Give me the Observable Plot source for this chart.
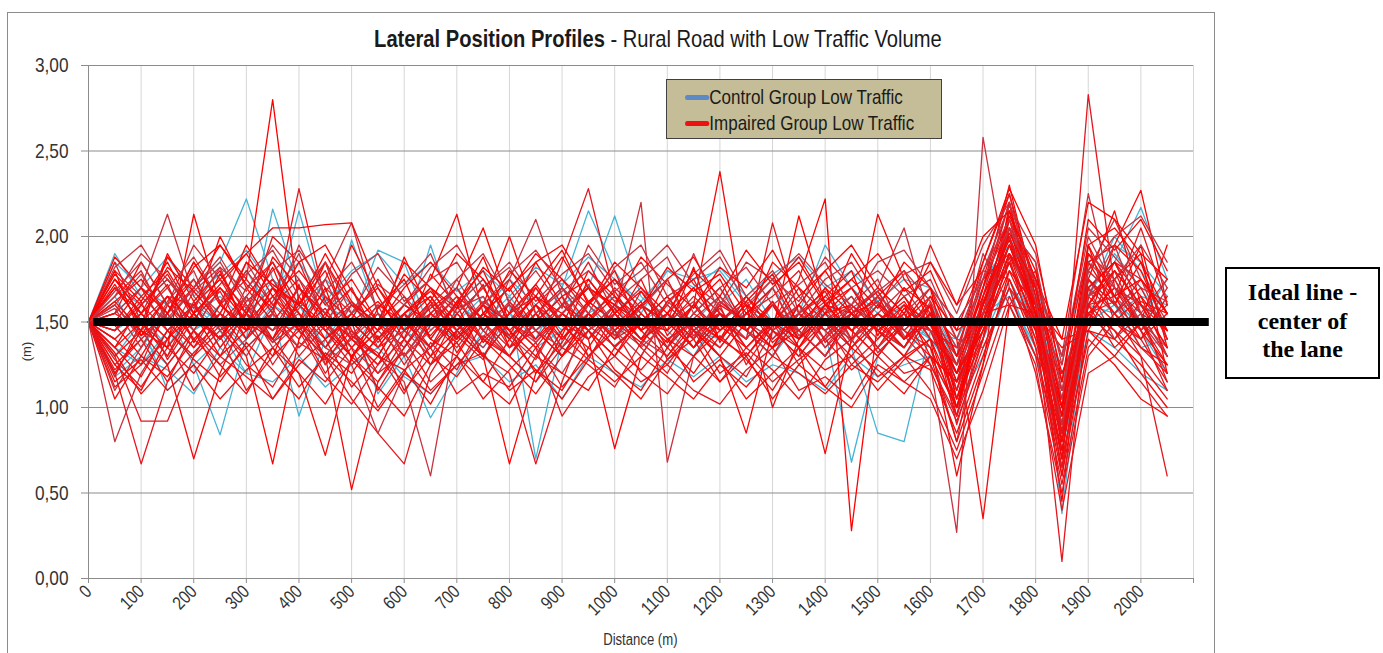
<!DOCTYPE html>
<html>
<head>
<meta charset="utf-8">
<script src="https://cdn.jsdelivr.net/npm/d3@7"></script>
<script src="https://cdn.jsdelivr.net/npm/@observablehq/plot@0.6"></script>
<style>
  body { margin: 0; background: #fff; }
  #wrap { position: relative; width: 1383px; height: 653px; overflow: hidden;
    font-family: "Liberation Sans", Arial, sans-serif; color: #1a1a1a; }
  #frame { position: absolute; left: 7px; top: 12px; width: 1208px; height: 700px; border: 1px solid #8c8c8c; box-sizing: border-box; }
  #chart { position: absolute; left: 0; top: 0; }
  .narrow { display: inline-block; transform: scaleX(0.84); white-space: nowrap; }
  #title { position: absolute; left: 0; width: 1315px; top: 26px; text-align: center; font-size: 24px; line-height: 26px; white-space: nowrap; color: #1a1a1a; }
  #legend { position: absolute; left: 666px; top: 79px; width: 276px; height: 60px; box-sizing: border-box;
    background: #c4bd97; border: 1px solid #404040; font-size: 21px; color: #1a1a1a; }
  .li { position: absolute; left: 18px; height: 26px; line-height: 26px; white-space: nowrap; transform: scaleX(0.81); transform-origin: left center; }
  .sw { display: inline-block; width: 30px; height: 5px; border-radius: 3px; vertical-align: middle; position: relative; top: -1px; }
  #ylab { position: absolute; left: 13px; top: 344px; width: 26px; text-align: center; font-size: 13px; transform: rotate(-90deg); color: #333; }
  #xlab { position: absolute; left: 540px; width: 200px; top: 631px; text-align: center; font-size: 16px; color: #333; }
  #xlab .narrow { transform: scaleX(0.82); }
  #note { position: absolute; left: 1225px; top: 267px; width: 155px; height: 112px; box-sizing: border-box;
    border: 2px solid #000; font-family: "Liberation Serif", "Times New Roman", serif; font-weight: bold;
    font-size: 24px; line-height: 28.5px; text-align: center; padding-top: 9px; color: #000; white-space: nowrap; }
</style>
</head>
<body>
<div id="wrap">
  <div id="frame"></div>
  <div id="chart"></div>
  <div id="title"><span class="narrow"><b>Lateral Position Profiles</b> - Rural Road with Low Traffic Volume</span></div>
  <div id="legend">
    <div class="li" style="top:4px"><span class="sw" style="background:#5b8ac4"></span>Control Group Low Traffic</div>
    <div class="li" style="top:30px"><span class="sw" style="background:#ee1111"></span>Impaired Group Low Traffic</div>
  </div>
  <div id="ylab">(m)</div>
  <div id="xlab"><span class="narrow">Distance (m)</span></div>
  <div id="note">Ideal line -<br>center of<br>the lane</div>
</div>
<script>
// ---- categories (distance along the road, m) ----
const distances = [0,50,100,150,200,250,300,350,400,450,500,550,600,650,700,750,800,850,900,950,1000,
  1050,1100,1150,1200,1250,1300,1350,1400,1450,1500,1550,1600,1650,1700,1750,1800,1850,1900,1950,2000,2050];

// ---- tick labels ----
const xTicks = [0,100,200,300,400,500,600,700,800,900,1000,1100,1200,1300,1400,1500,1600,1700,1800,1900,2000,2100];
const xTickLabels = ["0","100","200","300","400","500","600","700","800","900","1000","1100","1200","1300","1400","1500","1600","1700","1800","1900","2000",""];
const yTicks = [0, 0.5, 1, 1.5, 2, 2.5, 3];
const yTickLabels = ["0,00","0,50","1,00","1,50","2,00","2,50","3,00"];

// ---- ideal line (centre of the lane) ----
const idealLineY = 1.5;
const idealLineSpan = [10, 2130];

// ---- Control group low traffic (lateral position, m) ----
const control1 = [1.5,1.90,1.65,1.50,1.70,1.85,2.22,1.75,1.55,1.40,1.60,1.50,1.35,1.55,1.45,1.60,1.40,1.55,1.70,1.45,1.60,1.40,1.55,1.45,1.60,1.75,1.50,1.40,1.55,1.65,1.45,1.30,1.50,1.15,1.55,2.05,1.60,1.05,1.70,1.85,2.17,1.75];
const control2 = [1.5,1.20,1.35,1.55,1.25,0.84,1.40,2.16,1.70,1.50,1.35,1.55,1.40,1.60,1.45,1.30,1.55,1.40,1.70,2.15,1.80,1.55,1.40,1.50,1.65,1.45,1.35,1.55,1.45,0.68,1.30,1.50,1.40,1.20,1.60,2.10,1.75,0.38,1.65,1.90,1.70,1.45];
const control3 = [1.5,1.45,1.55,1.35,1.60,1.45,1.20,1.55,0.95,1.40,1.98,1.55,1.45,1.95,1.50,1.35,1.55,1.45,1.60,1.70,2.12,1.65,1.50,1.35,1.55,1.45,1.60,1.40,1.50,1.35,0.85,0.80,1.45,1.05,1.55,1.85,1.45,0.95,1.75,1.60,1.50,1.75];
const control4 = [1.5,1.65,1.40,1.25,1.45,1.60,1.80,1.55,2.15,1.60,1.50,1.92,1.85,1.45,1.60,1.75,1.50,1.35,1.45,1.60,1.40,1.55,1.80,1.75,1.80,1.60,1.45,1.55,1.95,1.70,1.55,1.40,1.60,1.30,1.60,1.95,1.55,0.85,1.80,1.65,1.45,1.20];
const control5 = [1.5,1.30,1.50,1.10,1.25,1.40,1.55,1.45,1.60,1.35,1.50,1.08,1.30,0.94,1.20,1.45,1.60,0.70,1.40,1.55,1.35,1.50,1.45,1.30,1.55,1.40,1.60,1.45,1.30,1.55,1.45,1.35,1.55,1.25,1.40,1.75,1.45,0.90,1.55,1.40,1.60,1.50];
const control6 = [1.5,1.55,1.70,1.60,1.45,1.55,1.40,1.60,1.50,1.75,1.60,1.45,1.55,1.40,1.60,1.50,1.65,1.45,1.55,1.40,1.60,1.50,1.35,1.55,1.70,1.50,1.40,1.60,1.45,1.55,1.70,1.55,1.40,1.20,1.50,1.90,1.60,1.15,1.65,2.00,1.80,1.55];
const control7 = [1.5,1.35,1.25,1.45,1.60,1.50,1.35,1.50,1.45,1.30,1.40,1.55,1.45,1.35,1.50,1.65,1.40,1.55,1.35,1.50,1.45,1.60,1.50,1.40,1.55,1.45,1.30,1.50,1.60,1.40,1.55,1.45,1.60,1.35,1.55,1.65,1.35,1.10,1.50,1.60,1.35,1.40];
const control8 = [1.5,1.70,1.60,1.75,1.55,1.65,1.50,1.75,1.60,1.45,1.55,1.40,1.60,1.50,1.40,1.55,1.75,1.60,1.45,1.55,1.65,1.50,1.60,1.45,1.40,1.55,1.70,1.50,1.55,1.35,1.50,1.60,1.45,1.40,1.70,2.00,1.65,1.20,1.60,1.55,1.65,1.60];
const control9 = [1.5,1.85,1.70,1.88,1.65,1.78,1.92,1.70,1.85,1.62,1.80,1.90,1.72,1.85,1.68,1.80,1.65,1.82,1.72,1.88,1.75,1.62,1.80,1.70,1.82,1.65,1.78,1.88,1.70,1.80,1.62,1.75,1.70,1.50,1.75,1.95,1.70,1.30,1.85,1.95,1.85,1.65];
const control10 = [1.5,1.18,1.30,1.22,1.08,1.35,1.20,1.15,1.30,1.12,1.25,1.35,1.18,1.08,1.25,1.30,1.15,1.25,1.05,1.30,1.20,1.12,1.28,1.18,1.30,1.15,1.25,1.20,1.10,1.30,1.18,1.25,1.30,1.00,1.30,1.70,1.30,0.75,1.45,1.35,1.20,1.10];

// ---- Impaired group low traffic (lateral position, m) ----
const impaired1 = [1.5,1.62,1.45,1.88,1.70,1.95,1.75,2.80,1.60,1.85,1.42,1.30,1.55,1.68,1.50,1.72,1.35,1.60,1.48,1.80,1.65,1.52,1.38,1.60,1.75,1.45,1.62,1.40,1.70,1.55,1.35,1.58,1.45,1.10,1.65,2.05,1.55,0.85,1.75,1.60,1.85,1.40];
const impaired2 = [1.5,1.20,0.67,1.15,1.45,1.30,1.58,1.40,1.72,1.25,1.50,1.10,1.35,1.55,1.42,1.28,1.62,1.45,1.30,1.55,1.40,1.68,1.50,1.35,1.60,1.25,1.48,1.70,1.38,1.52,1.65,1.40,1.55,1.20,1.48,1.90,1.62,0.95,2.83,1.70,1.55,1.30];
const impaired3 = [1.5,1.75,1.55,1.40,1.68,1.82,1.45,1.62,1.90,1.50,1.35,1.20,1.45,1.30,1.58,1.65,1.42,1.28,1.55,1.70,1.48,1.36,1.62,1.50,1.40,1.58,1.75,1.45,1.30,1.55,1.68,1.42,1.25,0.27,2.58,1.70,1.45,1.10,1.80,1.65,1.50,1.20];
const impaired4 = [1.5,1.35,1.60,1.78,1.52,1.40,1.65,1.85,1.55,1.30,0.52,1.15,1.40,1.25,1.55,1.70,1.45,1.20,1.38,1.62,1.50,1.75,1.42,1.60,2.38,1.45,1.30,1.55,1.68,1.40,1.52,1.35,1.60,1.05,1.40,2.10,1.75,0.75,1.60,1.85,1.55,1.45];
const impaired5 = [1.5,1.48,1.30,1.55,1.85,1.62,1.40,1.70,1.45,1.58,1.35,1.50,1.25,1.48,1.65,1.38,1.55,1.72,1.50,1.30,1.45,1.60,1.35,1.52,1.40,1.65,1.50,1.75,2.22,0.28,1.50,1.62,1.40,0.95,1.55,2.00,1.60,0.70,1.90,1.75,1.45,1.25];
const impaired6 = [1.5,1.65,1.80,1.50,1.35,1.60,1.75,1.55,2.28,1.62,1.40,1.25,1.50,1.35,1.62,1.45,1.30,1.55,1.70,1.48,1.36,1.50,1.65,1.42,1.55,1.30,1.48,1.60,1.40,1.55,1.68,1.45,1.30,1.15,1.70,2.20,1.50,0.10,1.65,1.80,1.60,1.35];
const impaired7 = [1.5,1.55,1.70,2.13,1.65,1.48,1.60,1.35,1.50,1.25,1.40,1.30,1.15,0.60,1.45,1.62,1.50,1.38,1.55,1.70,1.58,1.40,1.30,1.52,1.65,1.45,1.35,1.50,1.62,1.40,1.55,1.70,1.48,1.20,1.60,1.95,1.52,1.00,1.70,1.55,1.75,1.50];
const impaired8 = [1.5,1.30,1.45,1.25,0.70,1.20,1.55,1.40,1.62,1.48,1.30,1.45,1.60,1.75,2.13,1.55,1.40,1.60,1.35,1.52,1.68,1.45,1.30,1.48,1.55,1.40,1.62,1.35,1.50,1.65,1.45,1.30,1.55,1.40,0.35,1.60,1.80,1.20,1.55,1.40,1.62,1.55];
const impaired9 = [1.5,1.60,1.42,1.55,1.75,1.50,1.30,0.67,1.40,1.65,1.50,1.35,1.55,1.42,1.60,1.30,0.67,1.20,1.45,1.62,1.50,1.38,1.55,1.70,1.48,1.35,1.52,1.45,1.30,1.55,1.62,1.40,1.50,1.00,1.55,2.15,1.65,0.90,1.85,1.95,2.27,1.60];
const impaired10 = [1.5,1.40,1.25,1.60,1.45,1.70,1.55,1.38,1.50,1.30,1.05,0.85,0.67,1.20,1.45,1.60,1.75,1.50,1.85,2.28,1.65,1.45,1.55,1.35,1.50,1.62,1.40,1.55,1.45,1.30,1.50,1.65,1.40,1.25,1.75,1.90,1.55,1.05,1.60,1.45,1.30,0.60];
const impaired11 = [1.5,1.80,1.65,1.50,1.70,1.55,1.85,1.60,1.45,1.75,2.08,1.55,1.40,1.62,1.48,1.35,1.55,1.70,1.50,1.40,1.55,2.20,0.68,1.30,1.50,1.65,1.45,1.55,1.40,1.60,1.48,1.35,1.62,1.10,1.50,2.05,1.70,0.80,1.65,1.75,1.50,1.30];
const impaired12 = [1.5,1.25,1.40,1.55,1.35,1.50,1.65,1.40,1.20,0.72,1.30,1.45,1.60,1.50,1.38,1.55,1.70,1.45,1.30,1.55,1.42,1.60,1.50,1.35,1.55,1.45,1.60,1.35,0.73,1.40,2.13,1.75,1.55,1.20,1.45,1.85,1.50,1.00,1.55,1.70,1.60,1.45];
const impaired13 = [1.5,1.70,1.55,1.40,1.60,1.75,1.50,1.65,1.45,1.30,1.50,1.62,1.45,1.58,1.70,2.05,1.60,1.40,1.55,1.45,1.30,1.50,1.65,1.45,1.30,0.85,1.45,2.12,1.60,1.45,1.30,1.50,1.65,1.30,1.85,2.25,1.70,1.15,1.95,1.65,1.40,1.55];
const impaired14 = [1.5,1.45,1.60,1.75,1.55,1.40,1.70,1.85,1.60,1.45,1.25,1.40,1.55,1.35,1.50,1.30,1.20,0.67,1.15,1.55,1.40,1.60,1.48,1.65,1.50,1.40,2.08,1.55,1.35,1.50,1.65,1.40,1.55,0.90,1.40,2.15,1.60,0.60,1.70,1.85,1.55,1.15];
const impaired15 = [1.5,0.80,1.20,1.45,1.60,1.35,1.55,1.70,1.50,1.35,1.60,1.45,1.30,1.50,1.65,1.40,1.75,2.10,1.65,1.45,1.55,1.35,1.50,1.62,1.40,1.55,1.45,1.60,1.35,1.55,1.70,2.05,1.50,1.30,1.60,2.00,1.45,0.95,1.80,2.10,1.75,1.40];
const impaired16 = [1.5,1.55,1.85,1.60,1.40,1.55,1.35,1.50,1.70,1.55,1.40,1.25,1.50,1.65,1.45,1.60,2.00,1.55,1.40,1.60,1.75,1.50,1.35,1.55,1.45,1.60,1.00,1.40,1.55,1.70,1.50,1.35,1.60,1.25,1.70,2.30,1.65,0.80,1.75,2.15,1.60,1.50];
const impaired17 = [1.5,1.70,1.50,1.35,2.13,1.60,1.45,1.55,1.40,1.65,1.50,1.35,1.55,1.70,1.45,1.30,1.50,1.65,1.55,1.40,0.76,1.30,1.55,1.40,1.62,1.50,1.35,1.60,1.45,1.55,1.35,1.50,1.70,1.05,1.60,2.10,1.55,0.45,1.85,1.60,1.95,1.35];
const impaired18 = [1.5,1.30,0.92,0.92,1.30,1.55,1.45,1.65,1.50,1.35,1.55,1.40,1.60,1.50,1.35,1.55,1.40,1.60,1.75,1.55,1.40,1.50,1.35,1.60,1.45,1.55,1.70,1.40,1.55,1.45,1.30,1.50,1.95,1.60,1.80,1.75,1.40,1.20,1.55,1.70,1.45,1.60];
const impaired19 = [1.5,1.60,1.40,1.55,1.70,1.85,1.60,1.45,1.55,1.35,1.25,0.85,1.20,1.55,1.70,1.45,1.30,1.50,1.65,1.40,1.55,1.70,1.50,1.90,1.55,1.40,1.60,1.45,1.30,1.50,1.62,1.45,1.35,0.80,1.55,1.95,1.75,1.30,2.25,1.60,1.45,1.70];
const impaired20 = [1.5,1.45,1.65,1.80,1.55,2.00,1.70,1.50,1.35,1.55,1.70,1.40,1.55,1.30,1.45,1.60,1.40,1.55,1.30,1.50,1.65,1.45,1.55,1.35,1.50,1.65,1.45,1.35,1.55,1.60,1.45,1.30,1.40,0.60,1.25,2.20,1.55,0.70,1.95,1.50,1.65,1.30];
const impaired21 = [1.5,1.35,1.50,1.30,1.55,1.40,1.62,1.75,1.50,1.85,1.60,1.45,1.88,1.55,1.40,1.60,1.45,1.30,1.55,1.70,1.45,1.60,1.75,1.45,1.30,1.50,1.35,1.60,1.80,1.55,1.45,1.60,1.30,1.15,1.45,1.80,1.60,1.40,1.45,1.75,1.90,1.20];
const impaired22 = [1.5,1.75,1.60,1.45,1.30,1.45,1.55,2.00,1.85,1.50,1.30,1.15,1.35,1.60,1.45,1.30,1.50,1.40,1.60,1.85,1.55,1.40,1.60,1.45,1.55,1.35,1.50,1.65,1.50,1.35,1.55,1.45,1.60,0.95,1.65,2.20,1.45,0.65,1.60,1.85,1.75,1.55];
const impaired23 = [1.5,1.10,1.35,1.60,1.75,1.45,1.30,1.55,1.95,1.65,1.40,1.55,1.30,1.45,1.60,1.75,1.50,1.35,1.20,1.45,1.60,1.50,1.35,1.55,1.70,1.45,1.30,1.55,1.45,1.60,1.75,1.40,1.55,1.30,1.90,1.60,1.30,1.05,1.70,1.40,1.55,1.75];
const impaired24 = [1.5,1.62,1.75,1.55,1.85,1.60,1.95,1.70,1.55,1.40,1.55,1.70,1.50,1.35,1.55,1.40,1.30,1.50,1.65,1.75,1.55,1.40,1.50,1.70,1.55,1.45,1.60,1.40,1.55,1.35,1.50,1.65,1.45,1.20,1.50,1.90,1.70,1.10,1.50,1.95,1.80,1.45];
const impaired25 = [1.5,1.25,1.10,1.40,1.55,1.30,1.45,1.70,1.60,1.80,1.45,1.30,1.55,1.65,1.40,1.55,1.70,1.85,1.60,1.45,1.30,1.55,1.40,1.30,1.45,1.60,1.50,1.35,1.60,1.70,1.45,1.55,1.35,1.00,1.55,1.85,1.50,0.90,1.65,1.50,1.35,1.25];
const impaired26 = [1.5,1.85,1.50,1.65,1.40,1.55,1.80,1.60,1.75,1.45,1.60,1.50,1.35,1.55,1.70,1.50,1.35,1.45,1.60,1.50,1.70,1.55,1.40,1.50,1.35,1.55,1.65,1.80,1.50,1.40,1.60,1.50,1.45,1.35,1.75,2.25,1.60,0.80,1.60,1.65,2.05,1.60];
const impaired27 = [1.5,1.40,1.55,1.70,1.45,1.25,1.40,1.55,1.35,1.50,1.70,1.35,1.45,1.60,1.75,1.50,1.60,1.45,1.35,1.60,1.45,1.30,1.55,1.40,1.65,1.50,1.40,1.55,1.65,1.50,1.35,1.55,1.70,1.40,1.35,1.70,1.50,1.25,2.00,1.70,1.50,1.35];
const impaired28 = [1.5,1.55,1.45,1.65,1.60,1.75,1.90,2.05,2.05,2.07,2.08,1.70,1.45,1.55,1.40,1.60,1.50,1.35,1.55,1.70,1.60,1.45,1.55,1.40,1.60,1.50,1.35,1.45,1.60,1.55,1.40,1.60,1.50,1.25,1.60,1.95,1.55,1.00,1.75,1.55,1.40,1.65];
const impaired29 = [1.5,1.20,1.45,1.35,1.55,1.70,1.50,1.40,1.60,1.45,1.30,1.50,1.65,1.40,1.30,1.55,1.45,1.60,1.40,1.55,1.35,1.50,1.45,1.60,1.40,1.30,1.50,1.40,1.60,1.45,1.55,1.40,1.65,1.45,1.55,1.60,1.55,1.35,1.45,1.30,1.50,1.95];
const impaired30 = [1.5,1.50,1.70,1.45,1.60,1.40,1.55,1.45,1.70,1.55,1.40,1.60,1.50,1.70,1.55,1.40,1.55,1.65,1.50,1.40,1.60,1.50,1.65,1.45,1.35,1.55,1.45,1.30,1.50,1.60,1.45,1.35,1.55,1.15,1.40,2.05,1.85,0.85,1.50,1.80,1.45,1.10];
const impaired31 = [1.5,1.82,1.95,1.70,1.88,1.62,1.78,1.92,1.65,1.85,1.55,1.72,1.60,1.82,1.95,1.70,1.85,1.62,1.78,1.90,1.68,1.80,1.95,1.72,1.60,1.85,1.75,1.62,1.88,1.70,1.80,1.65,1.75,1.40,1.80,2.18,1.90,1.25,2.05,1.88,1.70,1.62];
const impaired32 = [1.5,1.15,1.28,1.10,1.25,1.05,1.22,1.35,1.12,1.30,1.15,0.98,1.20,1.08,1.25,1.32,1.10,1.22,1.05,1.28,1.15,1.30,1.18,1.05,1.25,1.12,1.30,1.20,1.08,1.25,1.15,1.30,1.22,0.85,1.30,1.75,1.35,0.60,1.45,1.40,1.25,1.05];
const impaired33 = [1.5,1.72,1.48,1.90,1.62,1.80,1.45,1.88,1.70,1.52,1.95,1.65,1.40,1.78,1.60,1.88,1.50,1.72,1.92,1.60,1.80,1.45,1.75,1.88,1.62,1.50,1.85,1.70,1.55,1.90,1.65,1.80,1.50,1.20,1.70,2.12,1.80,1.00,1.95,2.05,1.85,1.55];
const impaired34 = [1.5,1.28,1.12,1.35,1.20,1.42,1.10,1.30,1.45,1.18,1.02,1.25,1.40,1.15,1.30,1.05,1.22,1.38,1.12,1.30,1.45,1.20,1.08,1.30,1.15,1.35,1.22,1.05,1.28,1.40,1.18,1.30,1.10,0.75,1.20,1.65,1.30,0.55,1.35,1.55,1.30,1.10];
const impaired35 = [1.5,1.68,1.85,1.60,1.95,1.75,1.58,1.80,1.92,1.70,1.55,1.82,1.65,1.48,1.75,1.90,1.62,1.80,1.58,1.95,1.72,1.85,1.60,1.78,1.92,1.65,1.80,1.55,1.75,1.85,1.60,1.78,1.85,1.55,1.95,2.20,1.72,1.30,1.90,1.75,1.95,1.70];
const impaired36 = [1.5,1.05,1.30,1.18,1.40,1.25,1.08,1.35,1.20,1.02,1.28,1.12,0.95,1.25,1.38,1.15,1.02,1.30,1.20,1.10,1.35,1.22,1.40,1.15,1.28,1.05,1.20,1.35,1.12,1.00,1.25,1.15,1.30,1.00,1.45,1.85,1.40,0.75,1.55,1.45,1.20,1.00];
const impaired37 = [1.5,1.78,1.62,1.85,1.55,1.72,1.90,1.65,1.80,1.60,1.75,1.50,1.85,1.70,1.58,1.82,1.68,1.90,1.75,1.60,1.85,1.70,1.55,1.80,1.65,1.92,1.72,1.85,1.60,1.75,1.90,1.68,1.80,1.45,1.85,2.28,1.95,1.15,2.10,1.92,2.10,1.80];
const impaired38 = [1.5,1.22,1.40,1.15,1.32,1.48,1.25,1.12,1.38,1.28,1.45,1.20,1.32,1.10,1.25,1.42,1.30,1.15,1.35,1.25,1.12,1.38,1.25,1.45,1.20,1.32,1.15,1.28,1.40,1.22,1.35,1.20,1.25,0.92,1.35,1.70,1.20,0.50,1.30,1.50,1.40,1.15];
const impaired39 = [1.5,1.60,1.78,1.52,1.70,1.88,1.62,1.75,1.50,1.68,1.85,1.58,1.72,1.90,1.55,1.70,1.82,1.55,1.68,1.80,1.62,1.75,1.88,1.55,1.70,1.82,1.60,1.72,1.85,1.58,1.68,1.80,1.62,1.35,1.55,2.05,1.70,1.05,1.85,1.70,1.60,1.50];
const impaired40 = [1.5,1.35,1.18,1.45,1.28,1.15,1.38,1.22,1.05,1.32,1.20,1.42,1.10,1.30,1.18,1.40,1.25,1.08,1.30,1.45,1.22,1.10,1.35,1.20,1.42,1.28,1.10,1.35,1.22,1.30,1.10,1.28,1.40,1.05,1.50,1.95,1.60,0.85,1.60,1.35,1.50,1.25];
const impaired41 = [1.5,1.88,1.70,1.55,1.82,1.95,1.72,1.58,1.85,1.95,1.68,1.50,1.78,1.62,1.90,1.75,1.55,1.85,1.95,1.70,1.60,1.88,1.72,1.58,1.82,1.70,1.92,1.65,1.80,1.95,1.70,1.55,1.85,1.60,2.00,2.15,1.75,1.40,2.20,2.10,1.90,1.75];
const impaired42 = [1.5,1.12,1.25,1.40,1.10,1.30,1.18,1.05,1.28,1.15,1.35,1.00,1.22,1.35,1.08,1.20,1.12,1.35,0.95,1.18,1.30,1.15,1.25,1.10,1.02,1.22,1.35,1.10,1.18,1.05,1.30,1.15,1.05,0.70,1.10,1.60,1.25,0.40,1.20,1.30,1.15,0.95];
const impaired43 = [1.5,1.65,1.90,1.75,1.58,1.82,1.68,1.95,1.75,1.55,1.78,1.90,1.62,1.75,1.85,1.60,1.78,1.92,1.70,1.55,1.82,1.95,1.65,1.75,1.88,1.60,1.75,1.90,1.72,1.60,1.85,1.92,1.70,1.50,1.75,2.05,1.85,1.10,1.80,2.00,2.12,1.85];
const impaired44 = [1.5,1.32,1.08,1.25,1.45,1.18,1.35,1.05,1.25,1.40,1.12,1.30,1.22,1.02,1.30,1.15,1.40,1.22,1.10,1.35,1.20,1.05,1.28,1.40,1.15,1.30,1.05,1.25,1.12,1.35,1.22,1.08,1.30,0.80,1.25,1.80,1.45,0.70,1.40,1.25,1.05,0.95];
const impaired45 = [1.5,1.75,1.55,1.82,1.68,1.50,1.85,1.72,1.60,1.90,1.62,1.48,1.70,1.85,1.65,1.52,1.80,1.65,1.88,1.62,1.75,1.58,1.82,1.68,1.78,1.55,1.70,1.88,1.62,1.75,1.58,1.85,1.70,1.30,1.65,1.98,1.55,0.95,1.70,1.85,1.65,1.45];
const impaired46 = [1.5,1.45,1.62,1.28,1.52,1.68,1.40,1.58,1.30,1.48,1.62,1.38,1.55,1.25,1.42,1.60,1.35,1.50,1.65,1.30,1.48,1.62,1.28,1.45,1.58,1.35,1.50,1.25,1.42,1.58,1.32,1.48,1.60,1.10,1.62,2.00,1.50,0.85,1.75,1.55,1.70,1.40];
const impaired47 = [1.5,1.58,1.35,1.62,1.80,1.45,1.65,1.38,1.58,1.75,1.42,1.60,1.30,1.52,1.70,1.45,1.62,1.38,1.55,1.72,1.42,1.58,1.75,1.40,1.62,1.48,1.70,1.42,1.58,1.38,1.65,1.52,1.45,1.25,1.80,2.10,1.62,0.90,1.65,1.95,1.55,1.30];
const impaired48 = [1.5,1.40,1.55,1.72,1.38,1.60,1.48,1.30,1.65,1.40,1.52,1.75,1.45,1.62,1.32,1.55,1.42,1.70,1.48,1.35,1.58,1.40,1.62,1.75,1.45,1.60,1.38,1.52,1.70,1.45,1.60,1.40,1.55,1.15,1.50,1.90,1.45,0.80,1.60,1.80,1.60,1.35];
const impaired49 = [1.5,1.80,1.42,1.65,1.50,1.78,1.55,1.82,1.45,1.70,1.28,1.58,1.75,1.40,1.62,1.80,1.48,1.65,1.42,1.75,1.55,1.68,1.45,1.82,1.38,1.62,1.78,1.48,1.65,1.80,1.42,1.70,1.58,1.00,1.60,2.02,1.70,1.00,1.90,1.65,1.75,1.55];
const impaired50 = [1.5,1.18,1.50,1.30,1.62,1.35,1.55,1.25,1.48,1.20,1.42,1.32,1.08,1.38,1.22,1.50,1.30,1.15,1.42,1.28,1.55,1.35,1.20,1.48,1.30,1.18,1.45,1.30,1.50,1.25,1.40,1.55,1.25,0.95,1.40,1.88,1.35,0.65,1.55,1.62,1.35,1.20];

const controlSeries = [control1, control2, control3, control4, control5, control6, control7, control8, control9, control10];
const impairedSeries = [impaired1, impaired2, impaired3, impaired4, impaired5, impaired6, impaired7, impaired8, impaired9, impaired10,
  impaired11, impaired12, impaired13, impaired14, impaired15, impaired16, impaired17, impaired18, impaired19, impaired20,
  impaired21, impaired22, impaired23, impaired24, impaired25, impaired26, impaired27, impaired28, impaired29, impaired30,
  impaired31, impaired32, impaired33, impaired34, impaired35, impaired36, impaired37, impaired38, impaired39, impaired40,
  impaired41, impaired42, impaired43, impaired44, impaired45, impaired46, impaired47, impaired48, impaired49, impaired50];

// ---- styles ----
const controlColor = "#45b3d4";
const impairedColors = ["#ff0000", "#e4161e", "#c83340", "#f20a0a"];
const narrowScale = 0.82;

function toRows(seriesList, prefix, colorFn) {
  const rows = [];
  seriesList.forEach((s, i) => {
    s.forEach((v, j) => rows.push({ id: prefix + i, x: distances[j], y: v, color: colorFn(i) }));
  });
  return rows;
}
const controlRows = toRows(controlSeries, "c", () => controlColor);
const impairedRows = toRows(impairedSeries, "r", i => impairedColors[i % impairedColors.length]);

const chart = Plot.plot({
  width: 1383,
  height: 653,
  marginLeft: 88,
  marginRight: 190,
  marginTop: 65,
  marginBottom: 75,
  style: { fontFamily: '"Liberation Sans", Arial, sans-serif', background: "transparent", color: "#333" },
  x: { domain: [0, 2100] },
  y: { domain: [0, 3] },
  color: { type: "identity" },
  marks: [
    Plot.gridX(xTicks.slice(1), { stroke: "#d6d6d6", strokeOpacity: 1 }),
    Plot.gridY(yTicks.slice(1), { stroke: "#8c8c8c", strokeOpacity: 1 }),
    Plot.line(controlRows, { x: "x", y: "y", z: "id", stroke: "color", strokeWidth: 1.3 }),
    Plot.line(impairedRows, { x: "x", y: "y", z: "id", stroke: "color", strokeWidth: 1.3 }),
    Plot.ruleY([idealLineY], { x1: idealLineSpan[0], x2: idealLineSpan[1], stroke: "#000", strokeWidth: 8 }),
    Plot.ruleX([0], { stroke: "#8c8c8c" }),
    Plot.ruleY([0], { stroke: "#8c8c8c" }),
    Plot.axisY({ ticks: yTicks, tickFormat: d => yTickLabels[yTicks.indexOf(d)], tickSize: 7, tickPadding: 13,
      fontSize: 21, stroke: "#8c8c8c", fill: "#333", label: null }),
    Plot.axisX({ ticks: xTicks, tickFormat: d => xTickLabels[xTicks.indexOf(d)], tickSize: 5, tickPadding: 5,
      tickRotate: -45, fontSize: 18.5, stroke: "#8c8c8c", fill: "#333", label: null })
  ]
});
document.getElementById("chart").appendChild(chart);
// narrow (Arial Narrow–like) rendering of the tick labels, without moving them
chart.querySelectorAll('g[aria-label$="tick label"] text').forEach(t => {
  const len = t.getComputedTextLength();
  if (len > 0) {
    t.setAttribute("textLength", (len * narrowScale).toFixed(2));
    t.setAttribute("lengthAdjust", "spacingAndGlyphs");
  }
});
</script>
</body>
</html>
